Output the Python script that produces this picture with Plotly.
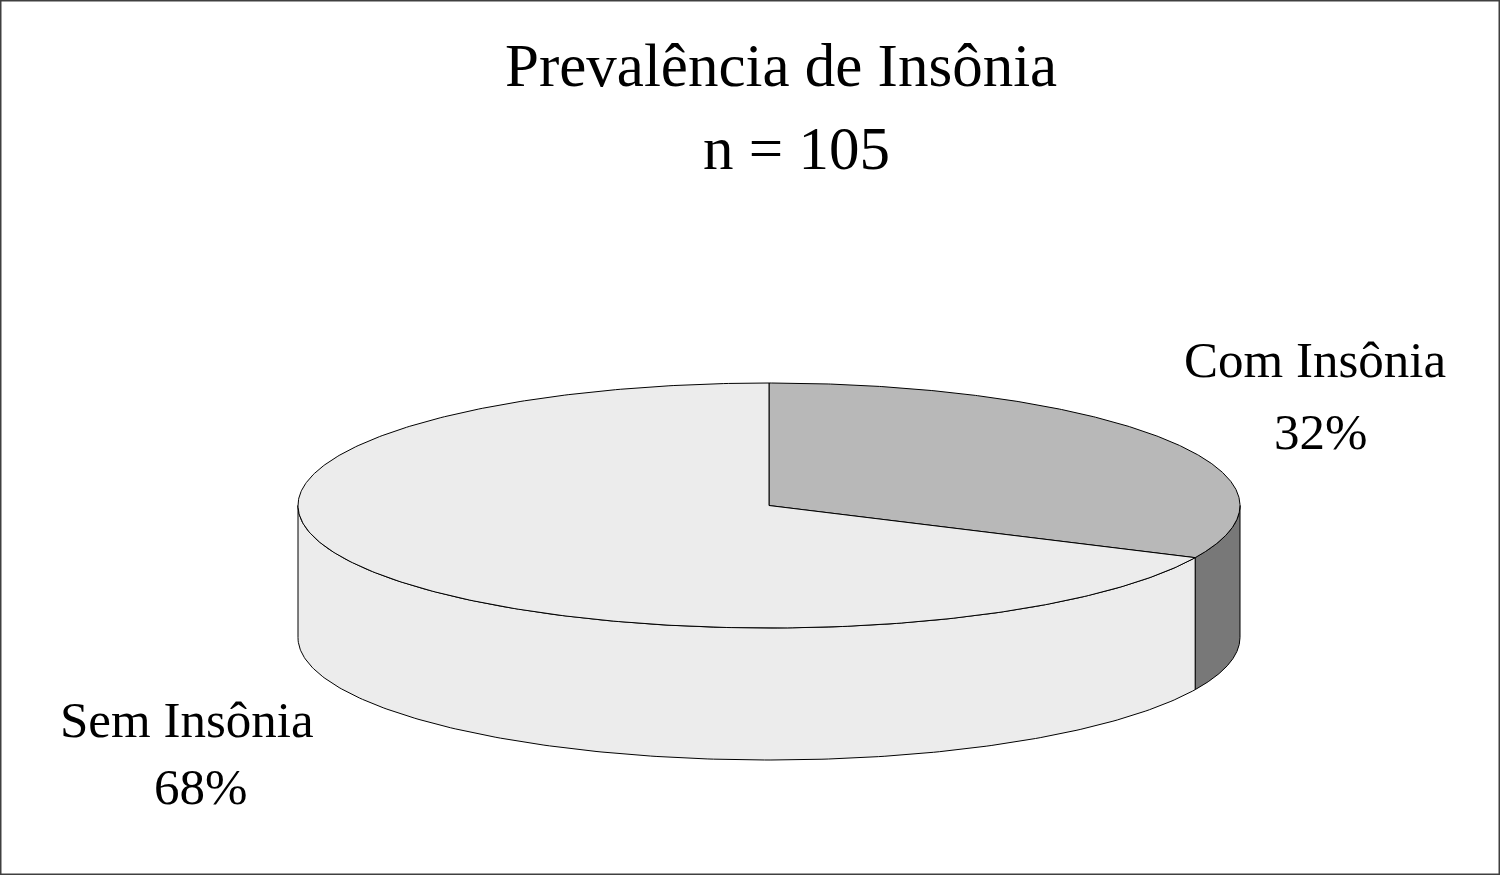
import numpy as np
import plotly.graph_objects as go

# ---- data ----
categories = ["Com Insônia", "Sem Insônia"]
values = [32, 68]
pct_labels = ["32%", "68%"]
title_lines = ["Prevalência de Insônia", "n = 105"]

top_colors = ["#b8b8b8", "#ececec"]
side_colors = ["#787878", "#ececec"]

# ---- geometry (pixel space) ----
W, H = 1500, 875
cx, cy = 769, 505.5
rx, ry = 471, 122.5
depth = 132

def pt(theta_deg, dy=0.0):
    t = np.radians(theta_deg)
    return cx + rx * np.cos(t), cy - ry * np.sin(t) + dy

total = sum(values)
# slices start at 12 o'clock, clockwise
bounds = []
start = 90.0
for v in values:
    end = start - 360.0 * v / total
    bounds.append((start, end))
    start = end

fig = go.Figure()

def side_range(s, e):
    lo, hi = min(s, e), max(s, e)
    segs = []
    for off in (-360, 0, 360):
        a, b = max(lo, -180 + off), min(hi, 0 + off)
        if a < b:
            segs.append((a, b))
    return segs

for i, (s, e) in enumerate(bounds):
    for a, b in side_range(s, e):
        th = np.linspace(a, b, 200)
        xt, yt = pt(th)
        xb, yb = pt(th[::-1], depth)
        xs = np.concatenate([xt, xb, xt[:1]])
        ys = np.concatenate([yt, yb, yt[:1]])
        fig.add_trace(go.Scatter(x=xs, y=ys, mode="lines", fill="toself",
                                 fillcolor=side_colors[i],
                                 line=dict(color="black", width=1),
                                 hoverinfo="skip", showlegend=False))

for i, (s, e) in enumerate(bounds):
    th = np.linspace(s, e, 400)
    xa, ya = pt(th)
    xs = np.concatenate([[cx], xa, [cx]])
    ys = np.concatenate([[cy], ya, [cy]])
    fig.add_trace(go.Scatter(x=xs, y=ys, mode="lines", fill="toself",
                             fillcolor=top_colors[i],
                             line=dict(color="black", width=1),
                             hoverinfo="skip", showlegend=False))

serif = "Liberation Serif, Times New Roman, serif"
ann = []
ann.append(dict(x=781, y=65, text=title_lines[0], font=dict(size=61)))
ann.append(dict(x=796, y=148, text=title_lines[1], font=dict(size=61)))
ann.append(dict(x=1315, y=360, text=categories[0], font=dict(size=51)))
ann.append(dict(x=1320, y=432, text=pct_labels[0], font=dict(size=51)))
ann.append(dict(x=187, y=720, text=categories[1], font=dict(size=51)))
ann.append(dict(x=200, y=787, text=pct_labels[1], font=dict(size=51)))
for a in ann:
    a.update(xref="x", yref="y", showarrow=False, xanchor="center", yanchor="middle")
    a["font"].update(family=serif, color="black")

fig.update_layout(
    width=W, height=H,
    margin=dict(l=0, r=0, t=0, b=0),
    paper_bgcolor="white", plot_bgcolor="white",
    xaxis=dict(range=[0, W], visible=False, fixedrange=True),
    yaxis=dict(range=[H, 0], visible=False, fixedrange=True),
    annotations=ann,
    shapes=[dict(type="rect", xref="paper", yref="paper", x0=0, y0=0, x1=1, y1=1,
                 line=dict(color="#404040", width=3), fillcolor="rgba(0,0,0,0)")],
)

fig.write_html("out.html", config={"displayModeBar": False},
               post_script="document.body.style.margin='0';document.body.style.overflow='hidden';")
